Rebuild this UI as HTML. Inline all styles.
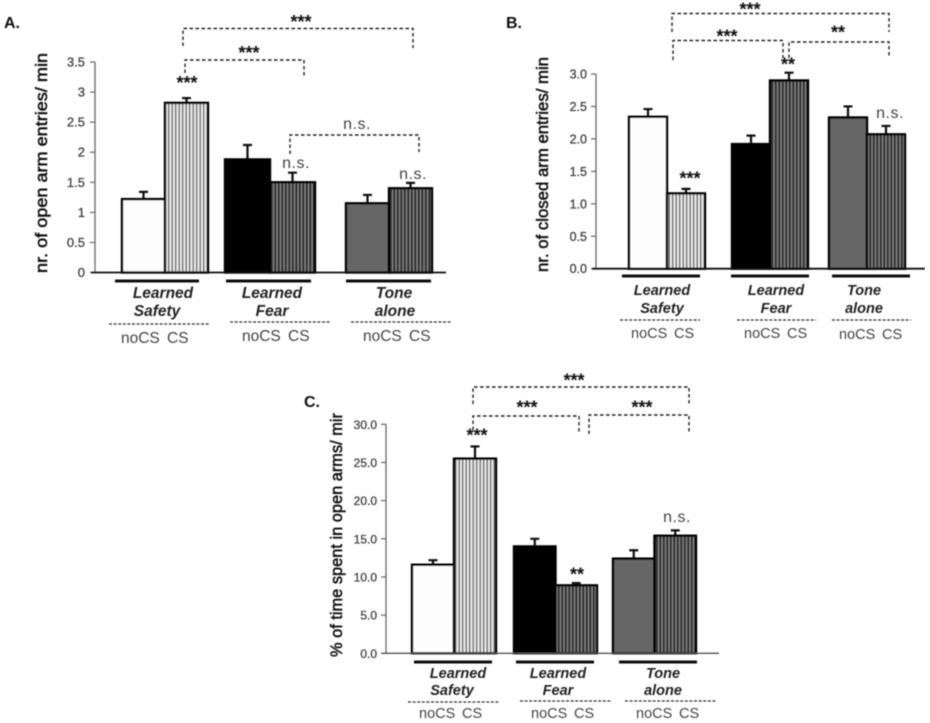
<!DOCTYPE html>
<html lang="en">
<head>
<meta charset="utf-8">
<title>Elevated plus maze bar charts</title>
<style>
html,body{margin:0;padding:0;background:#fff;width:930px;height:723px;overflow:hidden}
svg{display:block}
text{font-family:"Liberation Sans",sans-serif}
.panel{font-size:16px;font-weight:bold;fill:#111}
.ytitle{font-size:17px;fill:#111;stroke:#111;stroke-width:.5;text-anchor:middle}
.tick{fill:#444;stroke:#444;stroke-width:.3;text-anchor:end}
.group{font-size:14.5px;font-weight:bold;font-style:italic;fill:#222;text-anchor:middle}
.group-a{font-size:15.5px}
.cond{font-size:14.5px;fill:#444;text-anchor:start}
.cond-a{font-size:15.5px}
.stars{font-size:18px;font-weight:bold;fill:#111;text-anchor:middle}
.ns{font-size:16px;fill:#444;text-anchor:middle;letter-spacing:.5px}
.bracket{fill:none;stroke:#222;stroke-width:1.4;stroke-dasharray:3.5 2.5}
.dash{fill:none;stroke:#333;stroke-width:1.3;stroke-dasharray:3 1.6}
.gline{stroke:#111;stroke-width:3;fill:none}
</style>
</head>
<body>
<svg id="figure" xmlns="http://www.w3.org/2000/svg" width="930" height="723" viewBox="0 0 930 723">
<defs>
<filter id="soft" x="0" y="0" width="100%" height="100%"><feGaussianBlur stdDeviation="0.45"/></filter>
<pattern id="hatch-light" width="3.5" height="8" patternUnits="userSpaceOnUse"><rect width="3.5" height="8" fill="#e8e8e8"/><rect width="1.3" height="8" fill="#555"/></pattern>
<pattern id="hatch-dark" width="3.5" height="8" patternUnits="userSpaceOnUse"><rect width="3.5" height="8" fill="#333"/><rect width="1.1" height="8" fill="#8c8c8c"/></pattern>
</defs>
<rect width="930" height="723" fill="#fff"/>
<g filter="url(#soft)">

<g id="panel-a">
<text class="panel" x="4" y="28">A.</text>
<text class="ytitle" transform="translate(47,163) rotate(-90)" textLength="220" lengthAdjust="spacingAndGlyphs">nr. of open arm entries/ min</text>
<path class="bracket" d="M183 46V28.5H413V48"/>
<text class="stars" x="301" y="28">***</text>
<path class="bracket" d="M185 73V60H304V76"/>
<text class="stars" x="249" y="59">***</text>
<text class="stars" x="187" y="89">***</text>
<path class="bracket" d="M290 154V135H419V152"/>
<text class="ns" x="357" y="129">n.s.</text>
<text class="ns" x="296" y="168">n.s.</text>
<text class="ns" x="413" y="179">n.s.</text>
<path class="gline" d="M115 281H199M226 281H311M346 281H431"/>
<text class="group group-a" x="163" y="298">Learned</text>
<text class="group group-a" x="157" y="316">Safety</text>
<text class="group group-a" x="272" y="298">Learned</text>
<text class="group group-a" x="272" y="316">Fear</text>
<text class="group group-a" x="394" y="298">Tone</text>
<text class="group group-a" x="395" y="316">alone</text>
<path class="dash" d="M109 324H209M230 322H330M351 322H451"/>
<text class="cond cond-a" x="121" y="343">noCS</text>
<text class="cond cond-a" x="167" y="343">CS</text>
<text class="cond cond-a" x="242" y="341">noCS</text>
<text class="cond cond-a" x="288" y="341">CS</text>
<text class="cond cond-a" x="363" y="341">noCS</text>
<text class="cond cond-a" x="409" y="341">CS</text>
</g>

<g id="panel-b">
<text class="panel" x="506" y="28">B.</text>
<text class="ytitle" transform="translate(548,164.5) rotate(-90)" textLength="215" lengthAdjust="spacingAndGlyphs">nr. of closed arm entries/ min</text>
<path class="bracket" d="M672 32V13.5H889V32"/>
<text class="stars" x="750" y="15.5">***</text>
<path class="bracket" d="M673 60V40.5H783V58"/>
<text class="stars" x="727" y="42.5">***</text>
<path class="bracket" d="M789 58V42H889V58"/>
<text class="stars" x="838" y="38.5">**</text>
<text class="stars" x="788" y="70.5">**</text>
<text class="stars" x="690" y="184.5">***</text>
<text class="ns" x="890" y="118">n.s.</text>
<path class="gline" d="M622 276H700M731 276H809M832 276H910"/>
<text class="group" x="662" y="295">Learned</text>
<text class="group" x="662" y="313">Safety</text>
<text class="group" x="776" y="295">Learned</text>
<text class="group" x="776" y="313">Fear</text>
<text class="group" x="864" y="295">Tone</text>
<text class="group" x="864" y="313">alone</text>
<path class="dash" d="M620 320H700M737 320H816M832 320H911"/>
<text class="cond" x="631" y="338">noCS</text>
<text class="cond" x="674" y="338">CS</text>
<text class="cond" x="744" y="338">noCS</text>
<text class="cond" x="787" y="338">CS</text>
<text class="cond" x="839" y="339">noCS</text>
<text class="cond" x="882" y="339">CS</text>
</g>

<g id="panel-c">
<text class="panel" x="304" y="407">C.</text>
<text class="ytitle" transform="translate(342,535) rotate(-90)" textLength="244" lengthAdjust="spacingAndGlyphs">% of time spent in open arms/ mir</text>
<path class="bracket" d="M473 404V387H689V405"/>
<text class="stars" x="574" y="386.5">***</text>
<path class="bracket" d="M473 430V416H579V433"/>
<text class="stars" x="527" y="413.5">***</text>
<path class="bracket" d="M589 434V415H689V432"/>
<text class="stars" x="642" y="413.5">***</text>
<text class="stars" x="477" y="441.5">***</text>
<text class="stars" x="577" y="580.5">**</text>
<text class="ns" x="677" y="522">n.s.</text>
<path class="gline" d="M414 662H492M516 662H594M619 662H697"/>
<text class="group" x="458" y="678">Learned</text>
<text class="group" x="452" y="695">Safety</text>
<text class="group" x="558" y="678">Learned</text>
<text class="group" x="558" y="695">Fear</text>
<text class="group" x="663" y="678">Tone</text>
<text class="group" x="663" y="695">alone</text>
<path class="dash" d="M408 702H500M520 701H611M625 701H716"/>
<text class="cond" x="419" y="718">noCS</text>
<text class="cond" x="462" y="718">CS</text>
<text class="cond" x="531" y="718">noCS</text>
<text class="cond" x="574" y="718">CS</text>
<text class="cond" x="636" y="718">noCS</text>
<text class="cond" x="679" y="718">CS</text>
</g>
<g id="marks"></g>
</g>
</svg>

<script>
// Data
const barNames = ['safety-nocs', 'safety-cs', 'fear-nocs', 'fear-cs', 'tone-nocs', 'tone-cs'];
const panelAValues = [1.22, 2.82, 1.88, 1.5, 1.15, 1.4];
const panelAErrorTops = [1.34, 2.9, 2.12, 1.66, 1.29, 1.49];
const panelATicks = ['0', '0.5', '1', '1.5', '2', '2.5', '3', '3.5'];
const panelBValues = [2.34, 1.16, 1.92, 2.9, 2.33, 2.07];
const panelBErrorTops = [2.46, 1.23, 2.05, 3.02, 2.5, 2.2];
const panelBTicks = ['0.0', '0.5', '1.0', '1.5', '2.0', '2.5', '3.0'];
const panelCValues = [11.6, 25.5, 14, 8.9, 12.4, 15.4];
const panelCErrorTops = [12.2, 27.1, 15, 9.2, 13.5, 16.1];
const panelCTicks = ['0.0', '5.0', '10.0', '15.0', '20.0', '25.0', '30.0'];

const NS = 'http://www.w3.org/2000/svg';
const fills = ['#fdfdfd', 'url(#hatch-light)', '#000', 'url(#hatch-dark)', '#666', 'url(#hatch-dark)'];
const marks = document.getElementById('marks');

function add(parent, tag, attrs, name) {
  const el = document.createElementNS(NS, tag);
  for (const k in attrs) el.setAttribute(k, attrs[k]);
  
  
  parent.appendChild(el);
  return el;
}

function drawPanel(p, values, errorTops, ticks) {
  const maxValue = parseFloat(ticks[ticks.length - 1]);
  const y = v => p.y0 + (p.yMax - p.y0) * v / maxValue;
  const barX = i => p.groupX[i >> 1] + (i % 2) * p.barW[i >> 1];
  const barWidth = i => p.barW[i >> 1];

  const g = add(marks, 'g', {}, 'bars-' + p.id);
  // y axis + ticks
  add(g, 'line', {x1: p.axisX, x2: p.axisX, y1: y(maxValue), y2: y(0), stroke: '#666', 'stroke-width': 1.3}, 'y-axis-' + p.id);
  ticks.forEach(function (label) {
    const v = parseFloat(label);
    add(g, 'line', {x1: p.axisX - 5, x2: p.axisX, y1: y(v), y2: y(v), stroke: '#666', 'stroke-width': 1.2}, 'y-tick-' + p.id);
    const t = add(g, 'text', {class: 'tick', x: p.labelX, y: y(v) + 4.5, style: 'font-size:' + p.tickSize + 'px'}, 'y-tick-label-' + p.id);
    t.textContent = label;
  });
  // bars + error bars
  values.forEach(function (v, i) {
    const cx = barX(i) + barWidth(i) / 2;
    const top = y(errorTops[i]);
    add(g, 'path', {d: 'M' + cx + ' ' + y(v) + 'V' + top + 'M' + (cx - 4.5) + ' ' + top + 'H' + (cx + 4.5), stroke: '#111', 'stroke-width': 2.2, fill: 'none'}, 'error-bar-' + barNames[i]);
    add(g, 'rect', {x: barX(i), y: y(v), width: barWidth(i), height: y(0) - y(v), fill: fills[i], stroke: '#000', 'stroke-width': 2.4}, 'bar-' + barNames[i]);
  });
  // x axis
  add(g, 'line', {x1: p.axisX - 4, x2: p.axisEnd, y1: y(0), y2: y(0), stroke: p.xAxisColor, 'stroke-width': p.xAxisWidth}, 'x-axis-' + p.id);
}

drawPanel({id: 'a', y0: 272.5, yMax: 62, axisX: 95, axisEnd: 446, labelX: 85, tickSize: 13,
  groupX: [122, 225, 346], barW: [43, 45, 43], xAxisColor: '#111', xAxisWidth: 1.8},
  panelAValues, panelAErrorTops, panelATicks);
drawPanel({id: 'b', y0: 268.7, yMax: 74, axisX: 596, axisEnd: 925, labelX: 587, tickSize: 12.5,
  groupX: [629, 732, 829], barW: [38, 38, 38], xAxisColor: '#111', xAxisWidth: 1.8},
  panelBValues, panelBErrorTops, panelBTicks);
drawPanel({id: 'c', y0: 653.3, yMax: 424.3, axisX: 386, axisEnd: 719, labelX: 377, tickSize: 12,
  groupX: [412, 514, 613], barW: [42, 41.5, 41.5], xAxisColor: '#555', xAxisWidth: 1.4},
  panelCValues, panelCErrorTops, panelCTicks);
</script>
</body>
</html>
